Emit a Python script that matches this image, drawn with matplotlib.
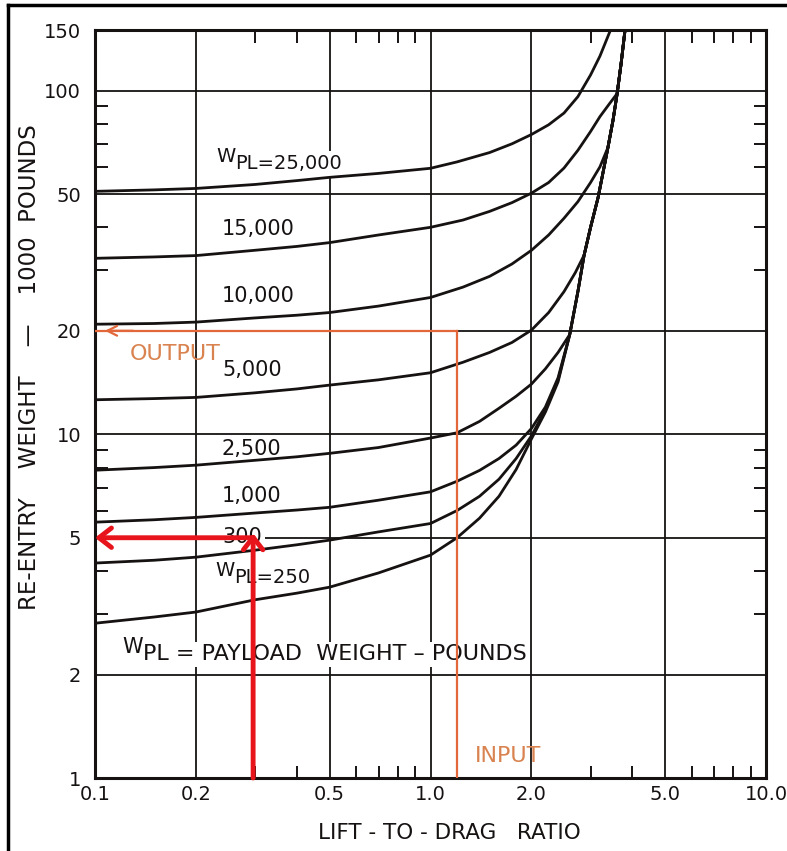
import matplotlib.pyplot as plt
from matplotlib.lines import Line2D
from matplotlib.ticker import FixedLocator, LogLocator, NullFormatter

# ---------------------------
# DATA
# ---------------------------

x_ticks = [0.1, 0.2, 0.5, 1.0, 2.0, 5.0, 10.0]
x_tick_labels = ["0.1", "0.2", "0.5", "1.0", "2.0", "5.0", "10.0"]
y_ticks = [1, 2, 5, 10, 20, 50, 100, 150]
y_tick_labels = ["1", "2", "5", "10", "20", "50", "100", "150"]

# common envelope the curves run into at high L/D
env_ld = [2.6, 2.75, 2.87, 3.0, 3.16, 3.38, 3.5, 3.6, 3.7, 3.8]
env_wt = [19.5, 26.0, 33.2, 40.0, 48.9, 68.3, 82.0, 98.0, 120.0, 150.0]

ld_250 = [0.1, 0.15, 0.2, 0.3, 0.4, 0.5, 0.7, 1.0, 1.2, 1.4, 1.6, 1.8, 2.0, 2.2, 2.4]
wt_250 = [2.82, 2.94, 3.04, 3.3, 3.45, 3.59, 3.95, 4.45, 5.0, 5.7, 6.6, 7.9, 9.7, 11.6, 14.2]

ld_500 = [0.1, 0.15, 0.2, 0.3, 0.4, 0.5, 0.7, 1.0, 1.2, 1.4, 1.6, 1.8, 2.0, 2.2, 2.4]
wt_500 = [4.22, 4.3, 4.39, 4.6, 4.77, 4.92, 5.2, 5.5, 6.0, 6.6, 7.4, 8.5, 9.9, 11.8, 14.4]

ld_1000 = [0.1, 0.15, 0.2, 0.3, 0.4, 0.5, 0.7, 1.0, 1.2, 1.4, 1.6, 1.8, 2.0, 2.2, 2.4]
wt_1000 = [5.55, 5.64, 5.73, 5.9, 6.02, 6.13, 6.43, 6.8, 7.3, 7.85, 8.5, 9.3, 10.4, 12.0, 14.6]

ld_2500 = [0.1, 0.15, 0.2, 0.3, 0.4, 0.5, 0.7, 1.0, 1.2, 1.4, 1.6, 1.8, 2.0, 2.2, 2.4]
wt_2500 = [7.86, 8.0, 8.13, 8.4, 8.6, 8.8, 9.15, 9.75, 10.1, 10.9, 11.9, 12.9, 14.0, 15.5, 17.3]

ld_5000 = [0.1, 0.15, 0.2, 0.3, 0.4, 0.5, 0.7, 1.0, 1.25, 1.5, 1.75, 2.0, 2.25, 2.5, 2.7]
wt_5000 = [12.6, 12.7, 12.8, 13.2, 13.55, 13.9, 14.4, 15.1, 16.2, 17.3, 18.5, 20.1, 22.6, 26.0, 29.5]

ld_10000 = [0.1, 0.15, 0.2, 0.3, 0.4, 0.5, 0.7, 1.0, 1.25, 1.5, 1.75, 2.0, 2.25, 2.5, 2.75, 3.0, 3.2]
wt_10000 = [20.9, 21.0, 21.2, 21.8, 22.2, 22.6, 23.6, 25.0, 26.8, 28.8, 31.3, 34.3, 38.0, 42.5, 47.5, 54.0, 60.0]

ld_15000 = [0.1, 0.15, 0.2, 0.3, 0.4, 0.5, 0.7, 1.0, 1.25, 1.5, 1.75, 2.0, 2.25, 2.5, 2.75, 3.0, 3.2, 3.4]
wt_15000 = [32.5, 32.8, 33.1, 34.3, 35.2, 36.1, 38.0, 40.0, 42.0, 44.5, 47.2, 50.3, 54.0, 59.5, 67.0, 76.0, 84.0, 91.0]

ld_25000 = [0.1, 0.15, 0.2, 0.3, 0.4, 0.5, 0.7, 1.0, 1.2, 1.5, 1.75, 2.0, 2.25, 2.5, 2.75, 3.0, 3.2, 3.44]
wt_25000 = [50.9, 51.4, 51.9, 53.3, 54.7, 55.9, 57.4, 59.4, 62.0, 66.0, 70.0, 74.5, 79.5, 86.0, 96.0, 111.0, 126.0, 150.0]

# (label, x of left edge, baseline y, raised W?)
curve_labels = [
    ("PL=25,000", 0.262, 59.2, True),
    ("15,000", 0.238, 37.9, False),
    ("10,000", 0.238, 24.3, False),
    ("5,000", 0.24, 14.8, False),
    ("2,500", 0.238, 8.72, False),
    ("1,000", 0.238, 6.35, False),
    ("300", 0.24, 4.82, False),
    ("PL=250", 0.26, 3.69, True),
]

input_ld = 1.2
output_wt = 20
example_ld = 0.296
example_wt = 5.0

BLACK = "#161212"
ORANGE = "#e2673a"
ORANGE_TXT = "#d98350"
RED = "#e8141c"

# ---------------------------
# FIGURE
# ---------------------------

plt.rcParams["font.family"] = ["DejaVu Sans"]

fig = plt.figure(figsize=(7.87, 8.51), dpi=100)
ax = fig.add_axes([95 / 787, 1 - 778 / 851, 671 / 787, 748 / 851])
ax.set_xscale("log")
ax.set_yscale("log")
ax.set_xlim(0.1, 10)
ax.set_ylim(1, 150)

ax.xaxis.set_major_locator(FixedLocator(x_ticks))
ax.xaxis.set_ticklabels(x_tick_labels)
ax.yaxis.set_major_locator(FixedLocator(y_ticks))
ax.yaxis.set_ticklabels(y_tick_labels)
ax.xaxis.set_minor_locator(LogLocator(base=10, subs=(3, 4, 6, 7, 8, 9)))
ax.yaxis.set_minor_locator(LogLocator(base=10, subs=(3, 4, 6, 7, 8, 9)))
ax.xaxis.set_minor_formatter(NullFormatter())
ax.yaxis.set_minor_formatter(NullFormatter())

ax.tick_params(which="both", direction="in", top=True, right=True, colors=BLACK)
ax.tick_params(which="major", length=0, labelsize=14)
ax.tick_params(axis="x", which="major", pad=5)
ax.tick_params(axis="y", which="major", pad=10)
ax.tick_params(which="minor", length=9, width=1.4)

ax.grid(True, which="major", color=BLACK, lw=1.3, zorder=0)
for s in ax.spines.values():
    s.set_linewidth(2.2)
    s.set_color(BLACK)

# curves
lw = 2.0
ax.plot(ld_250 + env_ld, wt_250 + env_wt, color=BLACK, lw=lw, zorder=3)
ax.plot(ld_500 + env_ld, wt_500 + env_wt, color=BLACK, lw=lw, zorder=3)
ax.plot(ld_1000 + env_ld, wt_1000 + env_wt, color=BLACK, lw=lw, zorder=3)
ax.plot(ld_2500 + env_ld, wt_2500 + env_wt, color=BLACK, lw=lw, zorder=3)
ax.plot(ld_5000 + env_ld[2:], wt_5000 + env_wt[2:], color=BLACK, lw=lw, zorder=3)
ax.plot(ld_10000 + env_ld[5:], wt_10000 + env_wt[5:], color=BLACK, lw=lw, zorder=3)
ax.plot(ld_15000 + env_ld[7:], wt_15000 + env_wt[7:], color=BLACK, lw=lw, zorder=3)
ax.plot(ld_25000, wt_25000, color=BLACK, lw=lw, zorder=3)

box = dict(facecolor="white", edgecolor="none", pad=2)

# curve labels
for text, x, y, with_w in curve_labels:
    size = 14 if with_w else 15
    ax.text(x, y, text, fontsize=size, ha="left", va="baseline",
            color=BLACK, bbox=box, zorder=2.5)
    if with_w:
        ax.annotate("W", xy=(x, y), xytext=(0, 5), textcoords="offset points",
                    fontsize=size, ha="right", va="baseline", color=BLACK, zorder=2.5)

ax.text(0.139, 2.2, "PL = PAYLOAD  WEIGHT – POUNDS", fontsize=16,
        ha="left", va="baseline", color=BLACK, bbox=box, zorder=2.5)
ax.annotate("W", xy=(0.139, 2.2), xytext=(0, 5), textcoords="offset points",
            fontsize=15, ha="right", va="baseline", color=BLACK, zorder=2.5)

# input / output example (orange)
ax.plot([input_ld, input_ld], [1, output_wt], color=ORANGE, lw=1.6, zorder=4)
ax.plot([0.1, input_ld], [output_wt, output_wt], color=ORANGE, lw=1.6, zorder=4)
ax.annotate("", xy=(0.107, output_wt), xytext=(0.13, output_wt),
            arrowprops=dict(arrowstyle="->,head_length=0.7,head_width=0.35",
                            color=ORANGE, lw=1.6, shrinkA=0, shrinkB=0),
            zorder=4, annotation_clip=False)
ax.text(0.127, 16.4, "OUTPUT", fontsize=16, color=ORANGE_TXT, ha="left", va="baseline")
ax.text(1.36, 1.11, "INPUT", fontsize=16, color=ORANGE_TXT, ha="left", va="baseline")

# red example arrows
ax.annotate("", xy=(example_ld, example_wt * 1.03), xytext=(example_ld, 1),
            arrowprops=dict(arrowstyle="->,head_length=0.9,head_width=0.7",
                            color=RED, lw=3.5, shrinkA=0, shrinkB=0),
            zorder=5, annotation_clip=False)
ax.annotate("", xy=(0.1, example_wt), xytext=(example_ld, example_wt),
            arrowprops=dict(arrowstyle="->,head_length=0.9,head_width=0.7",
                            color=RED, lw=3.5, shrinkA=0, shrinkB=0),
            zorder=5, annotation_clip=False)

# axis titles
fig.text(449 / 787, 1 - 833 / 851, "LIFT - TO - DRAG   RATIO", fontsize=15.5,
         ha="center", va="center", color=BLACK)
fig.text(30 / 787, 1 - 367 / 851, "RE-ENTRY    WEIGHT    —    1000  POUNDS",
         fontsize=16.5, rotation=90, ha="center", va="center", color=BLACK)

# scan frame
fig.add_artist(Line2D([8 / 787, 8 / 787], [0, 1 - 5 / 851], transform=fig.transFigure,
                      color="black", lw=2.5))
fig.add_artist(Line2D([8 / 787, 1], [1 - 5 / 851, 1 - 5 / 851], transform=fig.transFigure,
                      color="black", lw=2.5))

fig.savefig("out.png", dpi=100)
